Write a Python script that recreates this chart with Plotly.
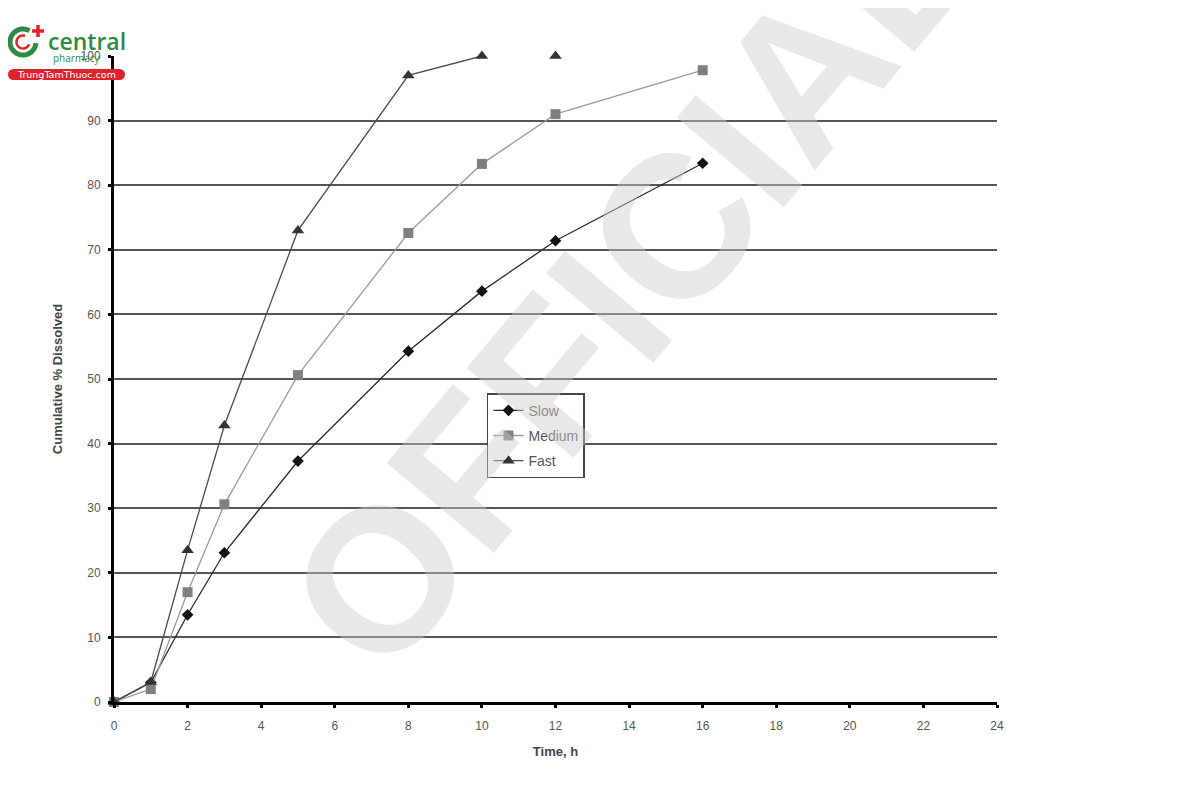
import math
import plotly.graph_objects as go

# ---- data ----
slow_time = [0, 1, 2, 3, 5, 8, 10, 12, 16]
slow_values = [0, 3, 13.5, 23.1, 37.3, 54.3, 63.6, 71.4, 83.4]

medium_time = [0, 1, 2, 3, 5, 8, 10, 12, 16]
medium_values = [0, 2, 17, 30.6, 50.6, 72.6, 83.3, 91, 97.8]

fast_time = [0, 1, 2, 3, 5, 8, 10]
fast_values = [0, 3.1, 23.5, 42.8, 73, 97, 100]
fast_extra_time = [12]
fast_extra_values = [100]

x_ticks = list(range(0, 25, 2))
y_ticks = list(range(0, 101, 10))

fig = go.Figure()

fig.add_trace(go.Scatter(
    x=slow_time, y=slow_values, name="Slow", mode="lines+markers", legendgroup="s",
    line=dict(color="#2a2a2a", width=1.3),
    marker=dict(symbol="diamond", size=9, color="#111111"),
    cliponaxis=False,
))
fig.add_trace(go.Scatter(
    x=medium_time, y=medium_values, name="Medium", mode="lines+markers", legendgroup="m",
    line=dict(color="#9a9a9a", width=1.3),
    marker=dict(symbol="square", size=10, color="#7f7f7f"),
    cliponaxis=False,
))
fig.add_trace(go.Scatter(
    x=fast_time, y=fast_values, name="Fast", mode="lines+markers", legendgroup="f",
    line=dict(color="#4a4a4a", width=1.3),
    marker=dict(symbol="triangle-up", size=11, color="#333333"),
    cliponaxis=False,
))
fig.add_trace(go.Scatter(
    x=fast_extra_time, y=fast_extra_values, name="Fast", mode="markers", legendgroup="f",
    marker=dict(symbol="triangle-up", size=11, color="#333333"),
    showlegend=False, cliponaxis=False,
))

font_family = "Liberation Sans, Arial, sans-serif"

# page body has an 8px margin: compensate so the plot area sits at window px 114..997, 56..702
fig.update_layout(
    width=1200, height=800,
    paper_bgcolor="white", plot_bgcolor="white",
    margin=dict(l=106, r=211, t=48, b=106),
    font=dict(family=font_family, color="#555555"),
    xaxis=dict(
        range=[0, 24], tickvals=x_ticks, showgrid=False,
        showline=True, linecolor="#000000", linewidth=3,
        ticks="outside", ticklen=3, tickwidth=3, tickcolor="#000000",
        ticklabelstandoff=8,
        tickfont=dict(size=12, color="#555555"),
        title=dict(text="<b>Time, h</b>", font=dict(size=13, color="#444444"), standoff=15),
        zeroline=False,
    ),
    yaxis=dict(
        range=[0, 100], tickvals=y_ticks, showgrid=True,
        gridcolor="#555555", gridwidth=1.6,
        showline=True, linecolor="#000000", linewidth=3,
        ticks="outside", ticklen=3, tickwidth=3, tickcolor="#000000",
        ticklabelstandoff=5,
        tickfont=dict(size=12, color="#555555"),
        title=dict(text="<b>Cumulative % Dissolved</b>", font=dict(size=13, color="#444444"), standoff=16),
        zeroline=False,
    ),
    legend=dict(
        x=0.4224, y=0.478, xanchor="left", yanchor="top",
        bgcolor="white", bordercolor="#444444", borderwidth=1.5,
        font=dict(size=14, color="#555555"),
        itemwidth=30, tracegroupgap=4,
    ),
    showlegend=True,
)


def px_x(p):
    return (p - 114) / 883


def px_y(p):
    return (702 - p) / 646


# watermark
fig.add_annotation(
    text="<b>OFFICIAL</b>", x=px_x(630), y=px_y(280), xref="paper", yref="paper",
    showarrow=False, textangle=-50,
    font=dict(size=203, color="rgba(205,205,205,0.45)", family=font_family),
)

# ---- logo ----
def arc_path(cx, cy, r, a0, a1, n=40):
    pts = []
    for i in range(n + 1):
        a = math.radians(a0 + (a1 - a0) * i / n)
        pts.append((px_x(cx + r * math.cos(a)), px_y(cy + r * math.sin(a))))
    return "M " + " L ".join("%.5f %.5f" % p for p in pts)

fig.add_shape(type="path", xref="paper", yref="paper",
              path=arc_path(23, 42, 13, 5, 300), line=dict(color="#2f8a45", width=5))
fig.add_shape(type="path", xref="paper", yref="paper",
              path=arc_path(23, 42, 6.5, 20, 290), line=dict(color="#e2222b", width=2.5))
fig.add_shape(type="line", xref="paper", yref="paper",
              x0=px_x(38), x1=px_x(38), y0=px_y(25), y1=px_y(37),
              line=dict(color="#e2222b", width=3.5))
fig.add_shape(type="line", xref="paper", yref="paper",
              x0=px_x(32), x1=px_x(44), y0=px_y(31), y1=px_y(31),
              line=dict(color="#e2222b", width=3.5))

fig.add_annotation(text="central", x=px_x(46), y=px_y(41), xref="paper", yref="paper",
                   xanchor="left", yanchor="middle", showarrow=False,
                   font=dict(size=23, color="#2f8a45", family="Open Sans, sans-serif", weight=600))
fig.add_annotation(text="pharmacy", x=px_x(51), y=px_y(58), xref="paper", yref="paper",
                   xanchor="left", yanchor="middle", showarrow=False,
                   font=dict(size=10, color="#2f8a45", family="Open Sans, sans-serif"))
fig.add_shape(type="rect", xref="paper", yref="paper",
              x0=px_x(13), x1=px_x(120), y0=px_y(69), y1=px_y(80),
              fillcolor="#e2222b", line=dict(width=0), layer="above")
fig.add_shape(type="circle", xref="paper", yref="paper",
              x0=px_x(8), x1=px_x(19), y0=px_y(69), y1=px_y(80),
              fillcolor="#e2222b", line=dict(width=0), layer="above")
fig.add_shape(type="circle", xref="paper", yref="paper",
              x0=px_x(114), x1=px_x(125), y0=px_y(69), y1=px_y(80),
              fillcolor="#e2222b", line=dict(width=0), layer="above")
fig.add_annotation(text="TrungTamThuoc.com", x=px_x(66), y=px_y(74.5), xref="paper", yref="paper",
                   xanchor="center", yanchor="middle", showarrow=False,
                   font=dict(size=9.5, color="white", family="DejaVu Sans, sans-serif"))

fig.write_html("out.html")
